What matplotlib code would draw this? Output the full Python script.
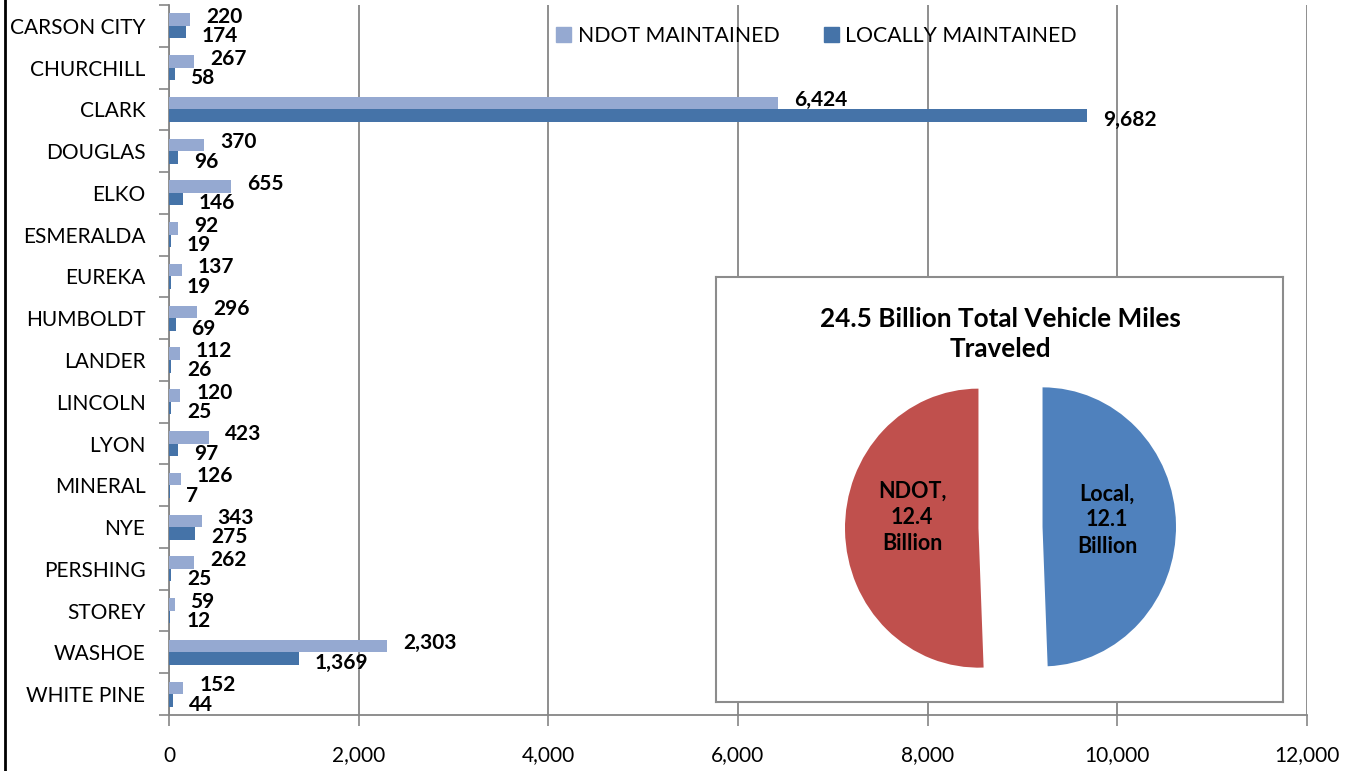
import matplotlib
matplotlib.use("Agg")
import matplotlib.pyplot as plt
from matplotlib.lines import Line2D
from matplotlib.patches import Patch
import numpy as np

plt.rcParams['font.family'] = ['Lato', 'DejaVu Sans']

counties = ["CARSON CITY", "CHURCHILL", "CLARK", "DOUGLAS", "ELKO", "ESMERALDA",
            "EUREKA", "HUMBOLDT", "LANDER", "LINCOLN", "LYON", "MINERAL", "NYE",
            "PERSHING", "STOREY", "WASHOE", "WHITE PINE"]
ndot = [220, 267, 6424, 370, 655, 92, 137, 296, 112, 120, 423, 126, 343, 262, 59, 2303, 152]
local = [174, 58, 9682, 96, 146, 19, 19, 69, 26, 25, 97, 7, 275, 25, 12, 1369, 44]
x_ticks = [0, 2000, 4000, 6000, 8000, 10000, 12000]
series_names = ["NDOT MAINTAINED", "LOCALLY MAINTAINED"]

pie_labels = ["Local,\n12.1\nBillion", "NDOT,\n12.4\nBillion"]
pie_values = [12.1, 12.4]
pie_title = "24.5 Billion Total Vehicle Miles\nTraveled"

C_NDOT = "#95A9D1"
C_LOCAL = "#4573A8"
PIE_BLUE = "#4F81BD"
PIE_RED = "#C0504D"
GRID = "#868686"

W, H = 1353, 771
fig = plt.figure(figsize=(W / 100, H / 100), dpi=100)

def fx(px):
    return px / W

def fy(py):
    return 1 - py / H

left, right, top, bottom = 169, 1307, 5, 715
ax = fig.add_axes([fx(left), fy(bottom), fx(right - left), fy(top) - fy(bottom)])

y = np.arange(len(counties))
h = 0.3
ax.barh(y - h / 2, ndot, height=h, color=C_NDOT, zorder=3)
ax.barh(y + h / 2, local, height=h, color=C_LOCAL, zorder=3)

for yi, v in zip(y, ndot):
    ax.annotate(f"{v:,}", (v, yi - h / 2), xytext=(11.5, 2), textcoords="offset points",
                ha="left", va="center", fontsize=15, fontweight="bold", zorder=4)
for yi, v in zip(y, local):
    ax.annotate(f"{v:,}", (v, yi + h / 2), xytext=(11.5, -3), textcoords="offset points",
                ha="left", va="center", fontsize=15, fontweight="bold", zorder=4)

ax.set_xlim(0, 12000)
ax.set_ylim(len(counties) - 0.5, -0.5)
ax.set_xticks(x_ticks)
ax.set_xticklabels([f"{t:,}" for t in x_ticks], fontsize=15)
ax.set_yticks(y)
ax.set_yticklabels(counties, fontsize=15)
ax.set_yticks(np.arange(-0.5, len(counties), 1.0), minor=True)
ax.tick_params(axis="y", which="major", length=0, pad=17)
ax.tick_params(axis="y", which="minor", length=7, color=GRID, width=1.2, direction="out")
ax.tick_params(axis="x", length=8, color=GRID, width=1.2, direction="out", pad=14)
ax.xaxis.grid(True, color=GRID, linewidth=1.3, zorder=0)
ax.set_axisbelow(True)
for s in ["top", "right"]:
    ax.spines[s].set_visible(False)
for s in ["left", "bottom"]:
    ax.spines[s].set_color(GRID)
    ax.spines[s].set_linewidth(1.3)

handles = [Patch(color=C_NDOT), Patch(color=C_LOCAL)]
leg = ax.legend(handles, series_names, loc="upper center", bbox_to_anchor=(0.569, 0.998),
                ncol=2, frameon=False, fontsize=15.3, handlelength=0.7, handleheight=0.7,
                columnspacing=2.1, handletextpad=0.3)

# left border line of the figure
fig.add_artist(Line2D([fx(5), fx(5)], [0, 1], color="black", linewidth=2))

# inset box
bx0, bx1, by0, by1 = 716, 1283, 277, 702
axb = fig.add_axes([fx(bx0), fy(by1), fx(bx1 - bx0), fy(by0) - fy(by1)], zorder=5)
axb.set_xticks([])
axb.set_yticks([])
axb.set_facecolor("white")
for s in axb.spines.values():
    s.set_color("#8C8C8C")
    s.set_linewidth(1.5)
fig.text(fx(1000), fy(334), pie_title, ha="center", va="center", fontsize=18.8,
         fontweight="bold", linespacing=1.3, zorder=7)

# pie
px0, px1, py0, py1 = 845, 1176, 388, 667
axp = fig.add_axes([fx(px0), fy(py1), fx(px1 - px0), fy(py0) - fy(py1)], zorder=6)
axp.patch.set_alpha(0)
wedges, _ = axp.pie(pie_values, colors=[PIE_BLUE, PIE_RED], startangle=90,
                    counterclock=False, explode=[0.24, 0.24], radius=1)
axp.set_aspect("auto")
axp.set_xlim(-1.24, 1.24)
axp.set_ylim(-1, 1)
axp.axis("off")
fig.text(fx(1107), fy(520), pie_labels[0], ha="center", va="center", fontsize=15.5,
         fontweight="bold", linespacing=1.3, zorder=8)
fig.text(fx(912), fy(517), pie_labels[1], ha="center", va="center", fontsize=15.5,
         fontweight="bold", linespacing=1.3, zorder=8)

fig.savefig("out.png", dpi=100)
